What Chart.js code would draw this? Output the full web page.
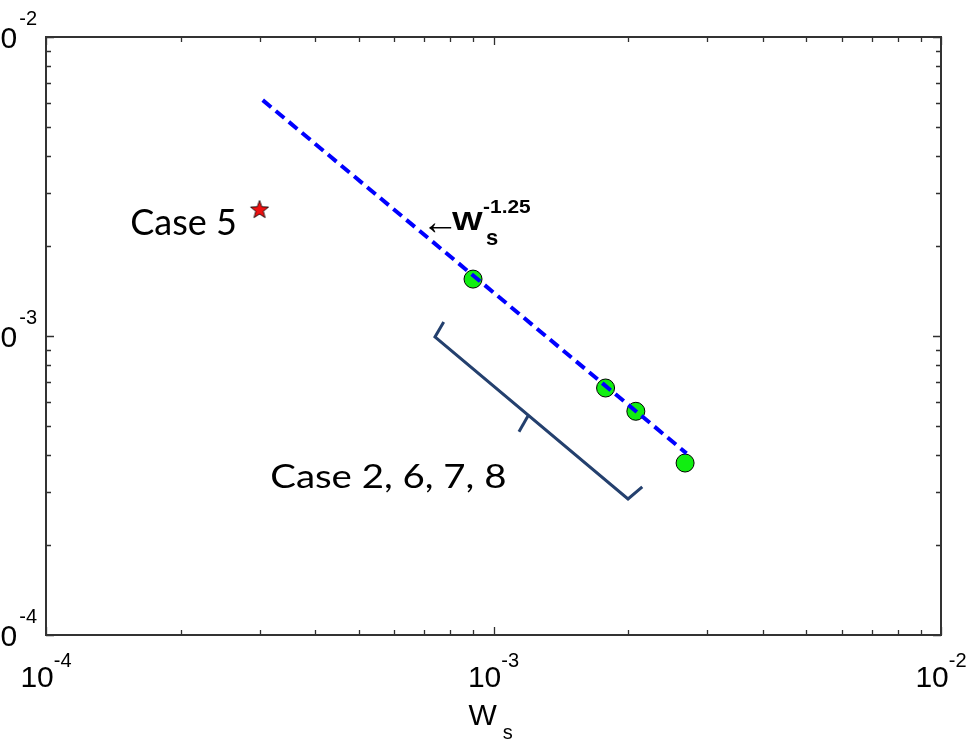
<!DOCTYPE html>
<html><head><meta charset="utf-8">
<script src="https://cdn.jsdelivr.net/npm/chart.js@4/dist/chart.umd.min.js"></script>
<style>html,body{margin:0;padding:0;background:#fff;}canvas{display:block;}</style>
</head><body>
<canvas id="c" width="972" height="740"></canvas>
<script>
// ---- data ----
const groupCases = ['Case 2', 'Case 6', 'Case 7', 'Case 8'];
const groupWs = [9.0e-4, 1.78e-3, 2.08e-3, 2.68e-3];
const groupY  = [1.55e-3, 6.7e-4, 5.6e-4, 3.76e-4];
const case5Ws = [3.0e-4];
const case5Y  = [2.66e-3];
const fitWs = [3.05e-4, 2.7e-3];
const fitY  = [6.15e-3, 4.05e-4];
const bracketWs = [7.74e-4, 7.40e-4, 1.998e-3, 2.15e-3];
const bracketY  = [1.114e-3, 9.93e-4, 2.85e-4, 3.13e-4];
const bracketTipWs = [1.194e-3, 1.140e-3];
const bracketTipY  = [5.40e-4, 4.78e-4];
const noteTexts = ['Case 5', 'Case 2, 6, 7, 8'];
const noteWs = [2.67e-4, 3.17e-4];
const noteY  = [2.18e-3, 3.10e-4];
const fitNoteWs = 8.08e-4, fitNoteY = 2.262e-3, fitExponent = '-1.25';
const xTickValues = [1e-4, 1e-3, 1e-2];
const xTickExponents = ['-4', '-3', '-2'];
const yTickValues = [1e-4, 1e-3, 1e-2];
const yTickExponents = ['-4', '-3', '-2'];
const minorMultipliers = [2, 3, 4, 5, 6, 7, 8, 9];
const xTitle = 'W', xTitleSub = 's';

const pts = (xs, ys) => xs.map((x, i) => ({x, y: ys[i]}));

// five-pointed star marker
const star = document.createElement('canvas');
star.width = 22; star.height = 22;
(function(){
  const g = star.getContext('2d');
  g.beginPath();
  for (let i = 0; i < 10; i++) {
    const r = i % 2 === 0 ? 9.5 : 4;
    const a = -Math.PI / 2 + i * Math.PI / 5;
    const px = 11 + r * Math.cos(a), py = 12 + r * Math.sin(a);
    i === 0 ? g.moveTo(px, py) : g.lineTo(px, py);
  }
  g.closePath();
  g.fillStyle = '#ee1111'; g.fill();
  g.strokeStyle = '#000'; g.lineWidth = 0.8; g.stroke();
})();

const framePlugin = {
  id: 'frame',
  beforeDatasetsDraw(chart) {
    const {ctx, chartArea: a, scales: {x, y}} = chart;
    ctx.save();
    ctx.strokeStyle = '#2f2f2f';
    const tick = (v, len, axis) => {
      if (axis === 'x') {
        const p = Math.round(x.getPixelForValue(v)) + 0.5;
        ctx.beginPath();
        ctx.moveTo(p, a.bottom); ctx.lineTo(p, a.bottom - len);
        ctx.moveTo(p, a.top); ctx.lineTo(p, a.top + len);
        ctx.stroke();
      } else {
        const p = Math.round(y.getPixelForValue(v)) + 0.5;
        ctx.beginPath();
        ctx.moveTo(a.left, p); ctx.lineTo(a.left + len, p);
        ctx.moveTo(a.right, p); ctx.lineTo(a.right - len, p);
        ctx.stroke();
      }
    };
    ctx.lineWidth = 1.3;
    xTickValues.forEach(v => tick(v, 8, 'x'));
    yTickValues.forEach(v => tick(v, 8, 'y'));
    xTickValues.slice(0, -1).forEach(v => minorMultipliers.forEach(m => tick(v * m, 5, 'x')));
    yTickValues.slice(0, -1).forEach(v => minorMultipliers.forEach(m => tick(v * m, 5, 'y')));
    ctx.lineWidth = 2;
    ctx.strokeStyle = '#333';
    ctx.strokeRect(a.left, a.top, a.right - a.left, a.bottom - a.top);

    // tick labels
    ctx.fillStyle = '#000';
    ctx.textBaseline = 'alphabetic';
    const big = '30px "Liberation Sans", Arial, sans-serif';
    const small = '20px "Liberation Sans", Arial, sans-serif';
    xTickValues.forEach((v, i) => {
      const p = x.getPixelForValue(v);
      ctx.font = big; const w1 = ctx.measureText('10').width;
      ctx.font = small; const w2 = ctx.measureText(xTickExponents[i]).width;
      const s = p - (w1 + w2) / 2;
      ctx.font = big; ctx.textAlign = 'left';
      ctx.fillText('10', s, a.bottom + 52);
      ctx.font = small;
      ctx.fillText(xTickExponents[i], s + w1, a.bottom + 32);
    });
    yTickValues.forEach((v, i) => {
      const p = y.getPixelForValue(v);
      ctx.font = small; const w2 = ctx.measureText(yTickExponents[i]).width;
      ctx.textAlign = 'right';
      ctx.fillText(yTickExponents[i], a.left - 9, p - 12);
      ctx.font = big;
      ctx.fillText('10', a.left - 11 - w2, p + 10.5);
    });
    // axis title
    ctx.textAlign = 'left';
    ctx.font = big;
    const cx = (a.left + a.right) / 2;
    const ww = ctx.measureText(xTitle).width;
    ctx.fillText(xTitle, cx - 25, a.bottom + 90);
    ctx.font = '20px "Liberation Sans", Arial, sans-serif';
    ctx.fillText(xTitleSub, cx - 25 + ww + 6, a.bottom + 104);
    ctx.restore();
  },
  afterDatasetsDraw(chart) {
    const {ctx, scales: {x, y}} = chart;
    ctx.save();
    ctx.fillStyle = '#000';
    ctx.textBaseline = 'alphabetic';
    // case notes
    const fonts = ['36px Lato, "Open Sans", sans-serif', '32px Lato, "Open Sans", sans-serif'];
    const stretch = [1.0, 1.2];
    const aligns = ['right', 'left'];
    noteTexts.forEach((t, i) => {
      ctx.save();
      ctx.translate(x.getPixelForValue(noteWs[i]), y.getPixelForValue(noteY[i]));
      ctx.scale(stretch[i], 1);
      ctx.font = fonts[i]; ctx.textAlign = aligns[i];
      ctx.fillText(t, 0, 0);
      ctx.restore();
    });
    // fit annotation
    const px = x.getPixelForValue(fitNoteWs), py = y.getPixelForValue(fitNoteY);
    ctx.font = '37px "Liberation Sans", "DejaVu Sans", sans-serif';
    ctx.textAlign = 'left';
    ctx.fillText('\u2190', px - 30.5, py + 3.5);
    ctx.save();
    ctx.translate(px, py); ctx.scale(1.3, 1);
    ctx.font = 'bold 25px "Liberation Sans", Arial, sans-serif';
    ctx.fillText('W', 0, 0);
    ctx.restore();
    ctx.save();
    ctx.translate(px + 31, py - 17); ctx.scale(1.1, 1);
    ctx.font = 'bold 19px "Liberation Sans", Arial, sans-serif';
    ctx.fillText(fitExponent, 0, 0);
    ctx.restore();
    ctx.font = 'bold 22px "Liberation Sans", Arial, sans-serif';
    ctx.fillText('s', px + 34, py + 15);
    ctx.restore();
  }
};

new Chart(document.getElementById('c'), {
  type: 'scatter',
  data: {
    datasets: [
      { label: 'W_s^-1.25 fit', data: pts(fitWs, fitY), showLine: true, pointRadius: 0,
        borderColor: '#0000ff', borderWidth: 4, borderDash: [11, 6], order: 0 },
      { label: 'Cases 2, 6, 7, 8', data: pts(groupWs, groupY), pointRadius: 9,
        backgroundColor: '#11ee11', borderColor: '#000', borderWidth: 1, order: 2 },
      { label: 'Case 5', data: pts(case5Ws, case5Y), pointStyle: star,
        order: 1 },
      { label: 'bracket', data: pts(bracketWs, bracketY), showLine: true, pointRadius: 0,
        borderColor: '#24406e', borderWidth: 3, order: 3 },
      { label: 'bracket tip', data: pts(bracketTipWs, bracketTipY), showLine: true, pointRadius: 0,
        borderColor: '#24406e', borderWidth: 3, order: 3 }
    ]
  },
  options: {
    responsive: false,
    animation: false,
    layout: { padding: { left: 46, top: 37, right: 31, bottom: 105 } },
    plugins: { legend: { display: false }, tooltip: { enabled: false } },
    scales: {
      x: { type: 'logarithmic', min: 1e-4, max: 1e-2, display: false },
      y: { type: 'logarithmic', min: 1e-4, max: 1e-2, display: false }
    }
  },
  plugins: [framePlugin]
});
</script>
</body></html>
